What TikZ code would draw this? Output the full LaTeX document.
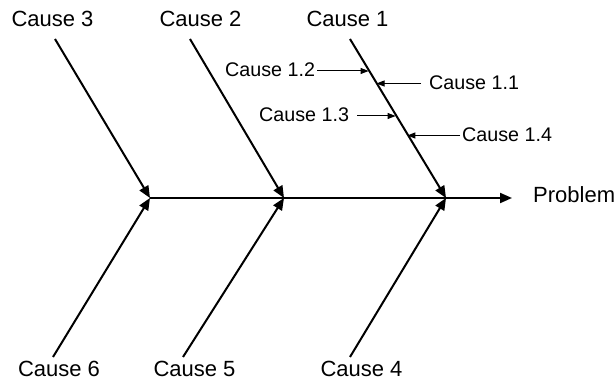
\documentclass[tikz,border=0pt]{standalone}
\usepackage{fontspec}
\setmainfont{Liberation Sans}
\usetikzlibrary{arrows.meta}
\begin{document}
\begin{tikzpicture}[x=1pt,y=-1pt,
  bone/.style={line width=2pt,-{Triangle[length=12pt,width=10pt]}},
  subbone/.style={line width=1pt,-{Triangle[length=8pt,width=6pt]}},
  mainlbl/.style={font=\fontsize{22}{24}\selectfont,inner sep=0pt,anchor=base},
  sublbl/.style={font=\fontsize{19.7}{22}\selectfont,inner sep=0pt,anchor=base west}]
\useasboundingbox (0,0) rectangle (616,382);
% joints
\coordinate (j3) at (150,198);
\coordinate (j2) at (284,198);
\coordinate (j1) at (446,198);
\coordinate (tail) at (150,198);
\coordinate (head) at (512,198);
% bone ends
\coordinate (t3) at (55,39);
\coordinate (t2) at (190,39);
\coordinate (t1) at (350,39);
\coordinate (b6) at (53,357);
\coordinate (b5) at (183,357);
\coordinate (b4) at (350,357);
% labels
\node[mainlbl] (c3) at (52.5,27) {Cause 3};
\node[mainlbl] (c2) at (200.5,27) {Cause 2};
\node[mainlbl] (c1) at (347.5,27) {Cause 1};
\node[mainlbl] (c6) at (59,376) {Cause 6};
\node[mainlbl] (c5) at (194.5,376) {Cause 5};
\node[mainlbl] (c4) at (361.5,376) {Cause 4};
\node[font=\fontsize{22}{24}\selectfont,inner sep=0pt,anchor=base west] (prob) at (533,203) {Problem};
% spine
\draw[bone] (tail) -- (head);
% bones
\draw[bone] (t3) -- (j3);
\draw[bone] (t2) -- (j2);
\draw[bone] (t1) -- (j1);
\draw[bone] (b6) -- (j3);
\draw[bone] (b5) -- (j2);
\draw[bone] (b4) -- (j1);
% sub causes
\node[sublbl] (c12) at (225,77) {Cause 1.2};
\node[sublbl] (c11) at (429,90) {Cause 1.1};
\node[sublbl] (c13) at (259,122) {Cause 1.3};
\node[sublbl] (c14) at (462,142) {Cause 1.4};
\coordinate (s12) at (317,71);
\coordinate (e12) at (368.6,71);
\coordinate (s11) at (421,83.5);
\coordinate (e11) at (376.5,83.5);
\coordinate (s13) at (357,116);
\coordinate (e13) at (395.6,116);
\coordinate (s14) at (460,135.5);
\coordinate (e14) at (407.3,135.5);
\draw[subbone] (s12) -- (e12);
\draw[subbone] (s11) -- (e11);
\draw[subbone] (s13) -- (e13);
\draw[subbone] (s14) -- (e14);
\end{tikzpicture}
\end{document}
